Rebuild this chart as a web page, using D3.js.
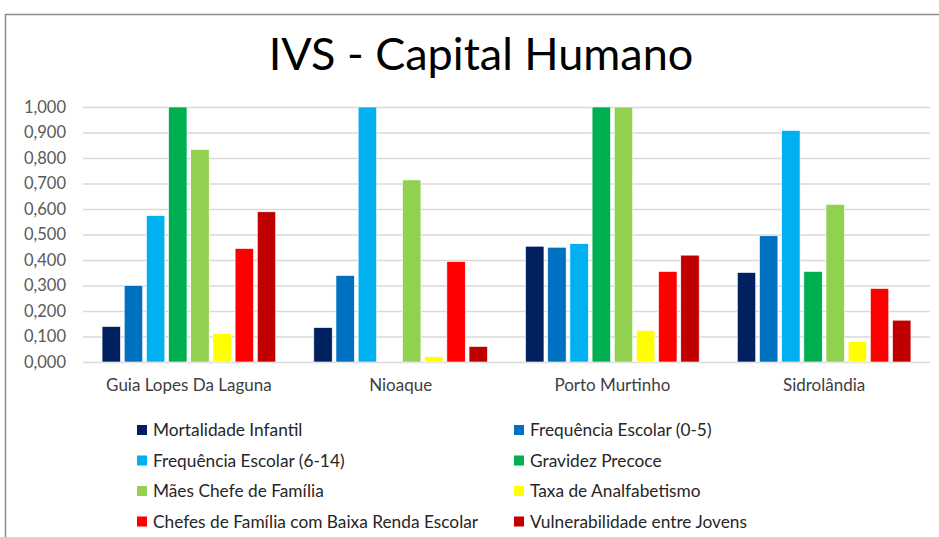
<!DOCTYPE html>
<html>
<head>
<meta charset="utf-8">
<script src="https://cdn.jsdelivr.net/npm/d3@7"></script>
<style>
body { margin:0; background:#fff; }
text { font-family: Lato, "Open Sans", sans-serif; }
</style>
</head>
<body>
<svg id="chart" width="939" height="537"></svg>
<script>
// dados
var municipios = ["Guia Lopes Da Laguna", "Nioaque", "Porto Murtinho", "Sidrolândia"];
var indicadores = ["Mortalidade Infantil", "Frequência Escolar (0-5)", "Frequência Escolar (6-14)", "Gravidez Precoce",
  "Mães Chefe de Família", "Taxa de Analfabetismo", "Chefes de Família com Baixa Renda Escolar", "Vulnerabilidade entre Jovens"];
var cores = ["#002060", "#0070C0", "#00B0F0", "#00B050", "#92D050", "#FFFF00", "#FF0000", "#C00000"];
var mortalidade = [0.139, 0.135, 0.454, 0.351];
var freq05 = [0.300, 0.339, 0.450, 0.495];
var freq614 = [0.574, 1.000, 0.464, 0.908];
var gravidez = [1.000, 0, 1.000, 0.355];
var maes = [0.833, 0.714, 1.000, 0.618];
var analfabetismo = [0.111, 0.021, 0.124, 0.081];
var chefes = [0.445, 0.394, 0.355, 0.288];
var jovens = [0.589, 0.061, 0.419, 0.164];
var yTicks = [0, 0.1, 0.2, 0.3, 0.4, 0.5, 0.6, 0.7, 0.8, 0.9, 1.0];

var series = [mortalidade, freq05, freq614, gravidez, maes, analfabetismo, chefes, jovens];

var svg = d3.select("#chart");
var mLeft = 83, mRight = 930, mTop = 107, mBottom = 362;

// moldura
svg.append("rect").attr("x", 5.5).attr("y", 14.5).attr("width", 960).attr("height", 600)
  .attr("fill", "none").attr("stroke", "#8c8c8c").attr("stroke-width", 1.5);

svg.append("text").attr("x", 481).attr("y", 70).attr("text-anchor", "middle")
  .attr("font-size", 45).attr("fill", "#000").text("IVS - Capital Humano");

var x0 = d3.scaleBand().domain(municipios).range([mLeft, mRight]).paddingInner(0.18).paddingOuter(0.09);
var x1 = d3.scaleBand().domain(d3.range(8)).range([0, x0.bandwidth()]).paddingInner(0.17);
var y = d3.scaleLinear().domain([0, 1]).range([mBottom, mTop]);

var fmt = function(d){ return d3.format(".3f")(d).replace(".", ","); };

var yAxis = svg.append("g").attr("transform", "translate(" + mLeft + ",0)")
  .call(d3.axisLeft(y).tickValues(yTicks).tickSize(-(mRight - mLeft)).tickFormat(fmt));
yAxis.select(".domain").remove();
yAxis.selectAll("line").attr("stroke", "#d9d9d9").attr("stroke-width", 1.5);
yAxis.selectAll("text").attr("x", -17).attr("font-size", 16.5).attr("fill", "#595959");

var xAxis = svg.append("g").attr("transform", "translate(0," + mBottom + ")")
  .call(d3.axisBottom(x0).tickSize(0).tickPadding(17));
xAxis.select(".domain").remove();
xAxis.selectAll("text").attr("font-size", 17).attr("fill", "#404040");

var grupos = svg.append("g").selectAll("g").data(municipios).enter().append("g")
  .attr("transform", function(d){ return "translate(" + x0(d) + ",0)"; });

grupos.selectAll("rect").data(function(d, i){
    return series.map(function(s, k){ return {k: k, v: s[i]}; });
  }).enter().append("rect")
  .attr("x", function(d){ return x1(d.k); })
  .attr("y", function(d){ return y(d.v); })
  .attr("width", x1.bandwidth())
  .attr("height", function(d){ return y(0) - y(d.v); })
  .attr("fill", function(d){ return cores[d.k]; })
  .attr("stroke", "#fff").attr("stroke-width", 0.6);

// legenda
var leg = svg.append("g").selectAll("g").data(indicadores).enter().append("g")
  .attr("transform", function(d, i){
    return "translate(" + (i % 2 == 0 ? 137 : 514) + "," + (430 + Math.floor(i / 2) * 30.5) + ")";
  });
leg.append("rect").attr("x", 0).attr("y", -5).attr("width", 10).attr("height", 10)
  .attr("fill", function(d, i){ return cores[i]; });
leg.append("text").attr("x", 16).attr("y", 6).attr("font-size", 17.3).attr("fill", "#262626")
  .text(function(d){ return d; });
</script>
</body>
</html>
